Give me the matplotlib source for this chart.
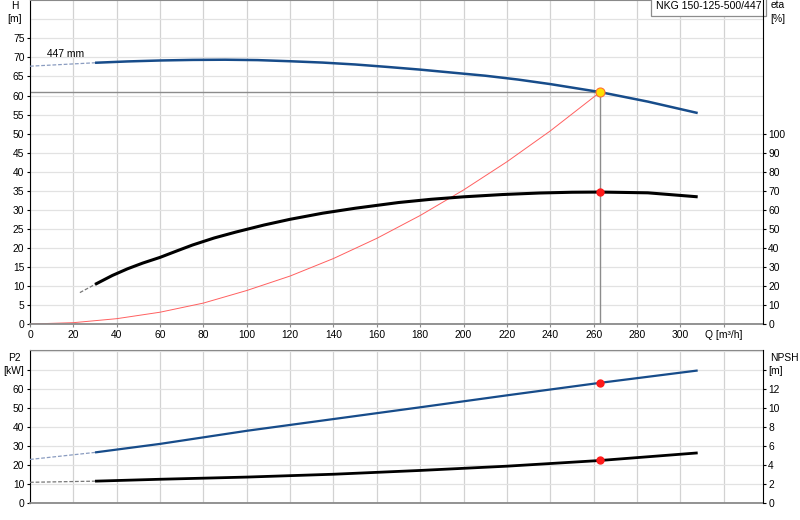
import numpy as np
import matplotlib.pyplot as plt

plt.rcParams['font.family'] = ['Liberation Sans', 'DejaVu Sans']
plt.rcParams['font.size'] = 7.4

# ── Data ──────────────────────────────────────────────────────────────────────
# head curve, 447 mm impeller
q_head_ext = [0, 30]
h_head_ext = [67.7, 68.6]
q_head = [30, 45, 60, 75, 90, 105, 120, 135, 150, 165, 180, 195, 210, 225, 240, 263, 285, 308]
h_head = [68.6, 68.95, 69.2, 69.35, 69.4, 69.3, 69.0, 68.65, 68.15, 67.5, 66.8, 66.0, 65.2, 64.2, 63.0, 60.9, 58.4, 55.4]

# efficiency [%]
q_eta_ext = [23, 30]
eta_ext = [16.5, 20.8]
q_eta = [30, 38, 45, 52, 60, 68, 75, 85, 95, 108, 120, 135, 150, 170, 185, 200, 218, 235, 250, 263, 285, 308]
eta = [20.8, 25.5, 29.0, 32.0, 35.0, 38.5, 41.5, 45.2, 48.3, 52.0, 55.0, 58.2, 60.8, 63.8, 65.5, 66.8, 68.0, 68.8, 69.2, 69.3, 68.9, 66.8]

# system curve
q_sys = [0, 20, 40, 60, 80, 100, 120, 140, 160, 180, 200, 220, 240, 263]
h_sys = [0, 0.35, 1.4, 3.1, 5.5, 8.8, 12.6, 17.2, 22.5, 28.5, 35.2, 42.6, 50.7, 60.9]

# shaft power P2 [kW]
q_p2_ext = [0, 30]
p2_ext = [22.8, 26.5]
q_p2 = [30, 60, 100, 140, 180, 220, 263, 308]
p2 = [26.5, 31.0, 37.9, 44.1, 50.3, 56.6, 63.2, 69.7]

# NPSH [m]
q_npsh_ext = [0, 30]
npsh_ext = [2.15, 2.27]
q_npsh = [30, 60, 100, 140, 180, 220, 263, 308]
npsh = [2.27, 2.47, 2.7, 3.0, 3.4, 3.85, 4.45, 5.25]

# duty point
q_duty = 263
h_duty = 60.9
eta_duty = 69.4
p2_duty = 63.2
npsh_duty = 4.45

title = 'NKG 150-125-500/447'

q_ticks = list(range(0, 301, 20))
h_ticks = list(range(0, 76, 5))
eta_ticks = list(range(0, 101, 10))
p2_ticks = list(range(0, 61, 10))
npsh_ticks = list(range(0, 13, 2))

# ── Styles ────────────────────────────────────────────────────────────────────
BLUE = '#174c8a'
RED_LINE = '#ff6060'
GRID_V = '#d2d2d2'
GRID_H = '#e2e2e2'
SPINE_GRAY = '#8a8a8a'
Q_MAX = 338

fig = plt.figure(figsize=(8, 5.2), dpi=100)
ax = fig.add_axes([0.0375, 0.3769, 0.9159, 0.6225])
axb = fig.add_axes([0.0375, 0.0333, 0.9159, 0.2936])


def style_axes(a):
    for v in q_ticks + [320]:
        a.axvline(v, color=GRID_V, lw=0.9, zorder=0)
    a.spines['top'].set_color(SPINE_GRAY)
    a.spines['bottom'].set_color(SPINE_GRAY)
    a.spines['bottom'].set_linewidth(1.3)
    a.spines['left'].set_color('black')
    a.spines['right'].set_visible(False)
    a.set_xlim(0, Q_MAX)
    a.tick_params(axis='y', length=2.5, width=0.8, pad=1.5)
    a.set_facecolor('white')


def style_twin(a):
    a.spines['right'].set_color('black')
    for s in ('top', 'left', 'bottom'):
        a.spines[s].set_visible(False)
    a.tick_params(axis='y', length=2.5, width=0.8, pad=1.5)
    a.patch.set_visible(False)


# ── Top: head / efficiency ────────────────────────────────────────────────────
style_axes(ax)
ax.set_ylim(0, 85)
for v in h_ticks + [80]:
    ax.axhline(v, color=GRID_H, lw=0.9, zorder=0)
ax.set_yticks(h_ticks)
ax.set_xticks(q_ticks + [320])
ax.set_xticklabels([str(t) for t in q_ticks] + ['Q [m³/h]'])
ax.tick_params(axis='x', length=2.5, width=0.8, pad=2, color=SPINE_GRAY)
ax.text(-0.021, 80, '[m]', transform=ax.get_yaxis_transform(), ha='center', va='center')
ax.text(-0.021, 83.6, 'H', transform=ax.get_yaxis_transform(), ha='center', va='center')

# duty point guide lines
ax.plot([0, q_duty], [h_duty, h_duty], color='#8c8c8c', lw=1.0, zorder=1)
ax.plot([q_duty, q_duty], [0, h_duty], color='#8c8c8c', lw=1.0, zorder=1)

ax.plot(q_sys, h_sys, color=RED_LINE, lw=0.7, zorder=2)
ax.plot(q_head_ext, h_head_ext, color='#8a9cc0', lw=0.9, ls=(0, (3, 1.5)), zorder=3)
ax.plot(q_head, h_head, color=BLUE, lw=1.8, zorder=3, solid_capstyle='butt')
ax.plot([q_duty], [h_duty], 'o', ms=6.5, color='#ffe000', mec='#ff7030', mew=0.8, zorder=7)
ax.text(8, 70.9, '447 mm', ha='left', va='center')
ax.text(0.9985, 0.997, title, transform=ax.transAxes, ha='right', va='top', fontsize=7.6,
        bbox=dict(boxstyle='square,pad=0.45', fc='white', ec='#8c8c8c', lw=0.9), zorder=10)

axe = ax.twinx()
style_twin(axe)
axe.set_ylim(0, 170)
axe.set_yticks(eta_ticks)
axe.plot(q_eta_ext, eta_ext, color='#777777', lw=0.9, ls=(0, (3, 1.5)))
axe.plot(q_eta, eta, color='black', lw=2.2, solid_capstyle='butt')
axe.plot([q_duty], [eta_duty], 'o', ms=5, color='#ff1a1a', mec='#ff1a1a', zorder=6)
axe.text(1.021, 160, '[%]', transform=axe.get_yaxis_transform(), ha='center', va='center')
axe.text(1.021, 167.5, 'eta', transform=axe.get_yaxis_transform(), ha='center', va='center')

# ── Bottom: P2 / NPSH ────────────────────────────────────────────────────────
style_axes(axb)
axb.set_ylim(0, 80.5)
for v in p2_ticks + [70, 80]:
    axb.axhline(v, color=GRID_H, lw=0.9, zorder=0)
axb.set_yticks(p2_ticks + [70])
axb.set_yticklabels([str(t) for t in p2_ticks] + ['[kW]'])
axb.set_xticks([])
axb.text(-0.021, 76.5, 'P2', transform=axb.get_yaxis_transform(), ha='center', va='center')

axb.plot(q_p2_ext, p2_ext, color='#8a9cc0', lw=0.9, ls=(0, (3, 1.5)), zorder=3)
axb.plot(q_p2, p2, color=BLUE, lw=1.6, zorder=3, solid_capstyle='butt')
axb.plot([q_duty], [p2_duty], 'o', ms=5, color='#ff1a1a', zorder=6)

axn = axb.twinx()
style_twin(axn)
axn.set_ylim(0, 16.1)
axn.set_yticks(npsh_ticks + [14])
axn.set_yticklabels([str(t) for t in npsh_ticks] + ['[m]'])
axn.text(1.03, 15.3, 'NPSH', transform=axn.get_yaxis_transform(), ha='center', va='center')
axn.plot(q_npsh_ext, npsh_ext, color='#777777', lw=0.9, ls=(0, (3, 1.5)))
axn.plot(q_npsh, npsh, color='black', lw=2.0, solid_capstyle='butt')
axn.plot([q_duty], [npsh_duty], 'o', ms=5, color='#ff1a1a', zorder=6)

fig.savefig('out.png', dpi=100)
